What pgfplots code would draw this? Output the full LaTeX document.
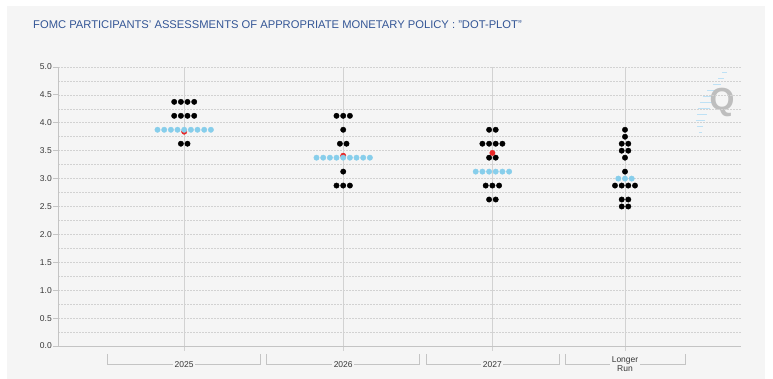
\documentclass[border=0pt]{standalone}
\usepackage{fontspec}
\setmainfont{Liberation Sans}
\usepackage{pgfplots}
\pgfplotsset{compat=1.18}
\definecolor{panel}{RGB}{245,245,245}
\definecolor{gridc}{RGB}{210,210,210}
\definecolor{axisc}{RGB}{196,196,196}
\definecolor{titlec}{RGB}{52,86,150}
\definecolor{dotblue}{RGB}{135,206,235}
\definecolor{dotred}{RGB}{232,40,40}
\definecolor{labc}{RGB}{55,55,55}
\definecolor{qgray}{RGB}{190,190,190}
\definecolor{qblue}{RGB}{190,225,245}
\begin{document}
\begin{tikzpicture}[x=1pt,y=1pt]
\useasboundingbox (0,0) rectangle (773,379);
\fill[white] (0,0) rectangle (773,379);
\fill[panel] (7,0) rectangle (765,373);
\node[anchor=west, text=titlec, font=\fontsize{11.2}{13}\selectfont, inner sep=0pt] at (33,354)
  {FOMC PARTICIPANTS' ASSESSMENTS OF APPROPRIATE MONETARY POLICY : "DOT-PLOT"};
% watermark
\foreach \yy/\xa/\xb in {306/722/727, 300/718/724, 294/713/721, 288/707/718, 282/703/715, 276/700/712, 270/698/710, 264/697/707, 258/696/705, 252/697/703, 246/699/702}
  \draw[qblue, line width=1pt] (\xa,\yy) -- (\xb,\yy);
\node[text=qgray, font=\fontsize{32}{32}\bfseries\selectfont, inner sep=0pt] at (722,277) {Q};
\begin{axis}[
  at={(58pt,33pt)}, anchor=south west, scale only axis,
  width=683pt, height=279pt,
  xmin=58, xmax=741, ymin=0, ymax=5,
  axis x line*=bottom, axis y line*=left,
  axis line style={draw=axisc, line width=0.8pt},
  ytick={0,0.5,...,5}, minor y tick num=1,
  xtick={184.2,343.2,492.4,625}, xticklabels={},
  ymajorgrids, yminorgrids, xmajorgrids,
  y grid style={draw=gridc, dash pattern=on 2pt off 1pt, line width=0.6pt},
  x grid style={draw=gridc, line width=0.6pt},
  tick align=outside, major tick length=5pt, minor tick length=0pt,
  xtick style={draw=gridc, line width=0.6pt},
  ytick style={draw=axisc, line width=0.8pt},
  yticklabel style={font=\fontsize{8.5}{10}\selectfont, text=labc, inner sep=1pt},
  y tick label style={/pgf/number format/.cd, fixed, fixed zerofill, precision=1, assume math mode=true},
  clip=false,
]
% black dots
\addplot[black, only marks, mark=*, mark size=2.7pt] coordinates {
 (174.2,4.375) (180.9,4.375) (187.5,4.375) (194.2,4.375)
 (174.2,4.125) (180.9,4.125) (187.5,4.125) (194.2,4.125)
 (180.9,3.625) (187.5,3.625)
 (336.5,4.125) (343.2,4.125) (349.9,4.125)
 (343.2,3.875)
 (339.9,3.625) (346.5,3.625)
 (343.2,3.125)
 (336.5,2.875) (343.2,2.875) (349.9,2.875)
 (489.1,3.875) (495.7,3.875)
 (482.4,3.625) (489.1,3.625) (495.7,3.625) (502.4,3.625)
 (489.1,3.375) (495.7,3.375)
 (485.7,2.875) (492.4,2.875) (499.1,2.875)
 (489.1,2.625) (495.7,2.625)
 (625,3.875)
 (625,3.75)
 (621.7,3.625) (628.3,3.625)
 (621.7,3.5) (628.3,3.5)
 (625,3.375)
 (625,3.125)
 (615,2.875) (621.7,2.875) (628.3,2.875) (635,2.875)
 (621.7,2.625) (628.3,2.625)
 (621.7,2.5) (628.3,2.5)
};
% red dots
\addplot[dotred, only marks, mark=*, mark size=2.7pt] coordinates {
 (184.2,3.84) (343.2,3.41) (492.4,3.46)
};
% blue dots (median)
\addplot[dotblue, only marks, mark=*, mark size=2.7pt] coordinates {
 (157.5,3.875) (164.2,3.875) (170.9,3.875) (177.5,3.875) (184.2,3.875) (190.9,3.875) (197.5,3.875) (204.2,3.875) (210.9,3.875)
 (316.5,3.375) (323.2,3.375) (329.9,3.375) (336.5,3.375) (343.2,3.375) (349.9,3.375) (356.5,3.375) (363.2,3.375) (369.9,3.375)
 (475.7,3.125) (482.4,3.125) (489.1,3.125) (495.7,3.125) (502.4,3.125) (509.1,3.125)
 (618.3,3.0) (625,3.0) (631.7,3.0)
};
\end{axis}
% category brackets
\foreach \a/\b in {107.5/260.3, 266.7/419.7, 426.2/559, 565/685}
  \draw[axisc, line width=0.8pt] (\a,25) -- (\a,15) -- (\b,15) -- (\b,25);
\foreach \c/\t in {184.2/2025, 343.2/2026, 492.4/2027}
  \node[fill=panel, text=labc, font=\fontsize{8.5}{10}\selectfont, inner sep=1.5pt] at (\c,14.5) {\t};
\node[fill=panel, text=labc, font=\fontsize{8.5}{9.7}\selectfont, inner sep=1.5pt, align=center] at (625,15) {Longer\\Run};
\end{tikzpicture}
\end{document}
